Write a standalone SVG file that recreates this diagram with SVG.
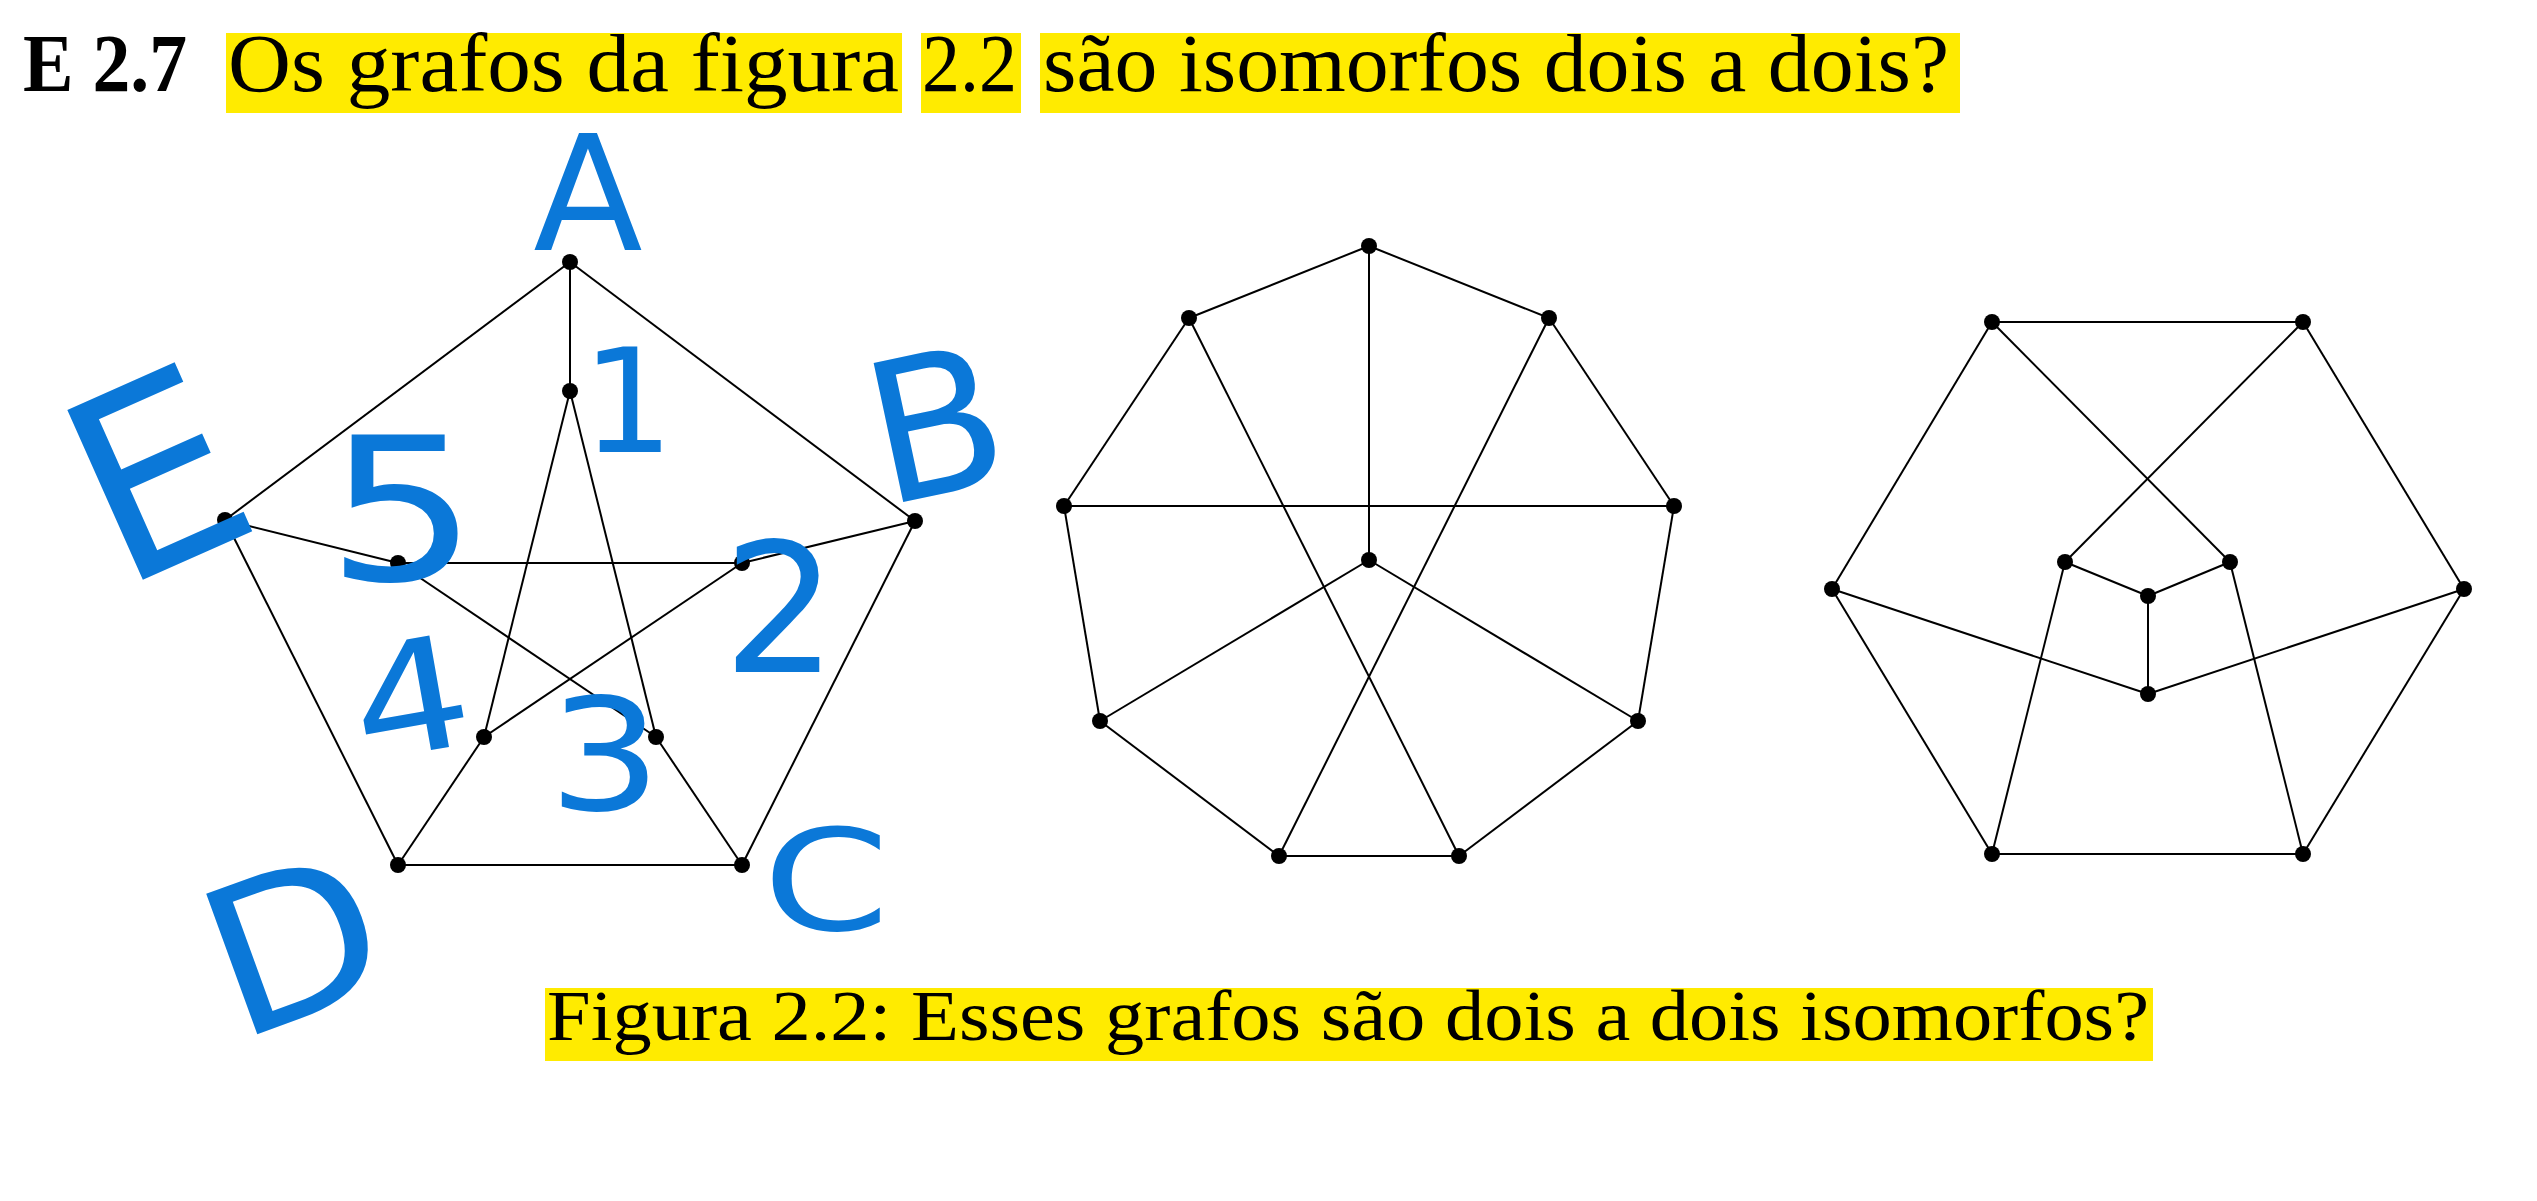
<svg xmlns="http://www.w3.org/2000/svg" width="2537" height="1201" viewBox="0 0 2537 1201">
<style>
.hl{fill:#ffeb00}
.t{font-family:"Liberation Serif","Times New Roman",serif;fill:#000}
.e{stroke:#000;stroke-width:2;fill:none}
.n{fill:#000}
.hw{font-family:"DejaVu Sans","Liberation Sans",sans-serif;fill:#0b78d8}
</style>
<rect width="2537" height="1201" fill="#fff"/>
<g id="title">
<rect class="hl" x="226" y="33" width="676" height="80"/>
<rect class="hl" x="921" y="33" width="100" height="80"/>
<rect class="hl" x="1040" y="33" width="920" height="80"/>
<text class="t" x="23" y="91" font-size="83" font-weight="bold" textLength="164" lengthAdjust="spacingAndGlyphs">E 2.7</text>
<text class="t" x="228" y="91" font-size="83" textLength="671" lengthAdjust="spacingAndGlyphs">Os grafos da figura</text>
<text class="t" x="922" y="91" font-size="83" textLength="95" lengthAdjust="spacingAndGlyphs">2.2</text>
<text class="t" x="1043" y="91" font-size="83" textLength="906" lengthAdjust="spacingAndGlyphs">são isomorfos dois a dois?</text>
</g>
<g id="caption">
<rect class="hl" x="545" y="988" width="1608" height="73"/>
<text class="t" x="547" y="1040" font-size="72" textLength="1602" lengthAdjust="spacingAndGlyphs">Figura 2.2: Esses grafos são dois a dois isomorfos?</text>
</g>
<g id="connectors">
<line class="e" x1="570" y1="262" x2="915" y2="521"/>
<line class="e" x1="915" y1="521" x2="742" y2="865"/>
<line class="e" x1="742" y1="865" x2="398" y2="865"/>
<line class="e" x1="398" y1="865" x2="225" y2="520"/>
<line class="e" x1="225" y1="520" x2="570" y2="262"/>
<line class="e" x1="570" y1="262" x2="570" y2="391"/>
<line class="e" x1="915" y1="521" x2="742" y2="563"/>
<line class="e" x1="742" y1="865" x2="656" y2="737"/>
<line class="e" x1="398" y1="865" x2="484" y2="737"/>
<line class="e" x1="225" y1="520" x2="398" y2="563"/>
<line class="e" x1="570" y1="391" x2="484" y2="737"/>
<line class="e" x1="570" y1="391" x2="656" y2="737"/>
<line class="e" x1="398" y1="563" x2="742" y2="563"/>
<line class="e" x1="398" y1="563" x2="656" y2="737"/>
<line class="e" x1="742" y1="563" x2="484" y2="737"/>
<line class="e" x1="1369" y1="246" x2="1189" y2="318"/>
<line class="e" x1="1369" y1="246" x2="1549" y2="318"/>
<line class="e" x1="1189" y1="318" x2="1064" y2="506"/>
<line class="e" x1="1549" y1="318" x2="1674" y2="506"/>
<line class="e" x1="1064" y1="506" x2="1100" y2="721"/>
<line class="e" x1="1674" y1="506" x2="1638" y2="721"/>
<line class="e" x1="1100" y1="721" x2="1279" y2="856"/>
<line class="e" x1="1638" y1="721" x2="1459" y2="856"/>
<line class="e" x1="1279" y1="856" x2="1459" y2="856"/>
<line class="e" x1="1369" y1="246" x2="1369" y2="560"/>
<line class="e" x1="1369" y1="560" x2="1100" y2="721"/>
<line class="e" x1="1369" y1="560" x2="1638" y2="721"/>
<line class="e" x1="1064" y1="506" x2="1674" y2="506"/>
<line class="e" x1="1189" y1="318" x2="1459" y2="856"/>
<line class="e" x1="1549" y1="318" x2="1279" y2="856"/>
<line class="e" x1="1992" y1="322" x2="2303" y2="322"/>
<line class="e" x1="1992" y1="322" x2="1832" y2="589"/>
<line class="e" x1="2303" y1="322" x2="2464" y2="589"/>
<line class="e" x1="1832" y1="589" x2="1992" y2="854"/>
<line class="e" x1="2464" y1="589" x2="2303" y2="854"/>
<line class="e" x1="1992" y1="854" x2="2303" y2="854"/>
<line class="e" x1="1992" y1="322" x2="2230" y2="562"/>
<line class="e" x1="2303" y1="322" x2="2065" y2="562"/>
<line class="e" x1="2065" y1="562" x2="2148" y2="596"/>
<line class="e" x1="2230" y1="562" x2="2148" y2="596"/>
<line class="e" x1="2148" y1="596" x2="2148" y2="694"/>
<line class="e" x1="1832" y1="589" x2="2148" y2="694"/>
<line class="e" x1="2464" y1="589" x2="2148" y2="694"/>
<line class="e" x1="2065" y1="562" x2="1992" y2="854"/>
<line class="e" x1="2230" y1="562" x2="2303" y2="854"/>
</g>
<g id="g1-A"><circle class="n" cx="570" cy="262" r="8"/></g>
<g id="g1-B"><circle class="n" cx="915" cy="521" r="8"/></g>
<g id="g1-C"><circle class="n" cx="742" cy="865" r="8"/></g>
<g id="g1-D"><circle class="n" cx="398" cy="865" r="8"/></g>
<g id="g1-E"><circle class="n" cx="225" cy="520" r="8"/></g>
<g id="g1-1"><circle class="n" cx="570" cy="391" r="8"/></g>
<g id="g1-2"><circle class="n" cx="742" cy="563" r="8"/></g>
<g id="g1-3"><circle class="n" cx="656" cy="737" r="8"/></g>
<g id="g1-4"><circle class="n" cx="484" cy="737" r="8"/></g>
<g id="g1-5"><circle class="n" cx="398" cy="563" r="8"/></g>
<g id="g2-top"><circle class="n" cx="1369" cy="246" r="8"/></g>
<g id="g2-ul"><circle class="n" cx="1189" cy="318" r="8"/></g>
<g id="g2-ur"><circle class="n" cx="1549" cy="318" r="8"/></g>
<g id="g2-l"><circle class="n" cx="1064" cy="506" r="8"/></g>
<g id="g2-r"><circle class="n" cx="1674" cy="506" r="8"/></g>
<g id="g2-ll"><circle class="n" cx="1100" cy="721" r="8"/></g>
<g id="g2-lr"><circle class="n" cx="1638" cy="721" r="8"/></g>
<g id="g2-bl"><circle class="n" cx="1279" cy="856" r="8"/></g>
<g id="g2-br"><circle class="n" cx="1459" cy="856" r="8"/></g>
<g id="g2-c"><circle class="n" cx="1369" cy="560" r="8"/></g>
<g id="g3-tl"><circle class="n" cx="1992" cy="322" r="8"/></g>
<g id="g3-tr"><circle class="n" cx="2303" cy="322" r="8"/></g>
<g id="g3-l"><circle class="n" cx="1832" cy="589" r="8"/></g>
<g id="g3-r"><circle class="n" cx="2464" cy="589" r="8"/></g>
<g id="g3-il"><circle class="n" cx="2065" cy="562" r="8"/></g>
<g id="g3-ir"><circle class="n" cx="2230" cy="562" r="8"/></g>
<g id="g3-c"><circle class="n" cx="2148" cy="596" r="8"/></g>
<g id="g3-lc"><circle class="n" cx="2148" cy="694" r="8"/></g>
<g id="g3-bl"><circle class="n" cx="1992" cy="854" r="8"/></g>
<g id="g3-br"><circle class="n" cx="2303" cy="854" r="8"/></g>
<g id="annotations">
<text class="hw" x="588" y="250" font-size="160" text-anchor="middle">A</text>
<text class="hw" font-size="195" transform="translate(950,492) rotate(-12)" text-anchor="middle">B</text>
<text class="hw" font-size="140" transform="translate(826,930) scale(1.3,1)" text-anchor="middle">C</text>
<text class="hw" font-size="205" transform="translate(318,1012) rotate(-20) scale(1.1,1)" text-anchor="middle">D</text>
<text class="hw" font-size="255" transform="translate(120,590) rotate(-24)">E</text>
<text class="hw" x="628" y="452" font-size="145" text-anchor="middle">1</text>
<text class="hw" x="780" y="672" font-size="180" text-anchor="middle">2</text>
<text class="hw" font-size="155" transform="translate(605,810) scale(1.15,1)" text-anchor="middle">3</text>
<text class="hw" font-size="155" transform="translate(420,752) rotate(-10) scale(1.2,1)" text-anchor="middle">4</text>
<text class="hw" font-size="200" transform="translate(402,580) scale(1.2,1)" text-anchor="middle">5</text>
</g>
</svg>
